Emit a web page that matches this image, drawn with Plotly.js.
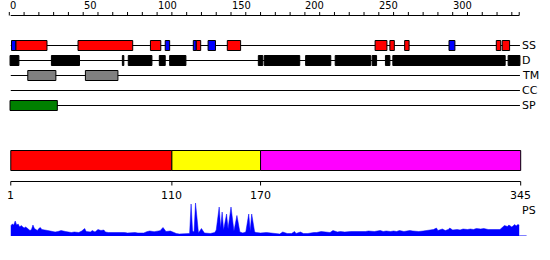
<!DOCTYPE html>
<html><head><meta charset="utf-8">
<script src="https://cdn.plot.ly/plotly-3.0.1.min.js"></script>
<style>html,body{margin:0;padding:0;background:#fff;}#chart{width:550px;height:260px;}</style>
</head><body><div id="chart"></div>
<script>
// ---------------- data ----------------
const seqLength = 345;
const rulerTicks = [0,10,20,30,40,50,60,70,80,90,100,110,120,130,140,150,160,170,180,190,200,210,220,230,240,250,260,270,280,290,300,310,320,330,340,345];
const rulerLabels = [0,50,100,150,200,250,300];
const trackNames = ['SS','D','TM','CC','SP'];

// secondary structure: H = helix, E = strand
const ssStart = [2,5,47,96,106,125,127,135,148,248,258,268,298,330,334];
const ssEnd   = [4,25,83,102,108,126,129,139,156,255,260,270,301,332,338];
const ssType  = ['E','H','H','H','E','E','H','E','H','H','H','H','E','H','H'];

// disorder
const disStart = [1,29,77,81,102,109,169,173,201,221,246,255,260,338];
const disEnd   = [6,47,77,96,105,119,171,196,217,244,248,257,335,345];

// transmembrane
const tmStart = [13,52];
const tmEnd   = [31,73];

// coiled coil (none)
const ccStart = [];
const ccEnd   = [];

// signal peptide
const spStart = [1];
const spEnd   = [32];

// domains
const domainStart = [1,110,170];
const domainEnd   = [110,170,345];

// bottom axis ticks
const domainTicks = [1,110,170,345];
const profileLabel = 'PS';

// PS profile
const psPos = [1,2,3,4,5,6,7,8,10,11,12,13,14,15,16,17,19,20,21,22,23,24,26,29,31,33,35,38,40,42,44,47,49,51,52,55,56,58,60,62,64,65,67,69,72,74,76,78,80,83,85,87,89,91,93,95,98,100,102,104,106,109,111,113,115,118,120,122,123,124,125,126,128,130,132,136,139,140,142,143,144,145,147,148,150,152,154,156,158,160,162,163,164,166,167,170,174,179,183,185,188,191,193,194,197,199,202,206,208,211,215,217,219,222,224,227,231,234,237,241,243,245,247,251,253,255,258,260,262,264,267,269,271,273,275,277,280,284,287,289,290,293,295,297,298,300,303,305,307,310,312,314,316,319,321,324,328,330,332,335,337,338,340,342,343,344,345];
const psVal = [10,12,11,15,11,12,9,10.5,8,9,8,6.5,5.5,6.5,11,7.5,5.5,7.5,8.5,6.5,6.5,6,5.5,4.5,4,4.5,5.5,4.5,4,3.5,4,3.5,5,7.5,4.5,4,5.5,4,6.5,5.5,6,4,3.5,3.5,4,3.5,4,3.5,3,3.5,3.5,3,3,3,4.3,5,4.3,4.7,5.3,8.5,4.5,5,3.5,2.5,2,2,2,2.5,32,5,4,33,3,7.5,3,2.5,3.5,6,29,8,24,6,22,7,29,5,20.5,4,3,4,22,5,22,4,3.5,3,3.5,3,2,4,2.5,2.5,4.5,2.5,4,2.5,2.5,3.5,3.5,4.5,3.5,3.5,5.5,4,4.5,4,4.5,4.5,4,4.5,5,5,4.5,5.5,4.5,5,4.5,5,4.5,5.5,4.5,5,5.5,5,4.5,4.5,5,5.5,6.5,8,5.5,7,5.5,6.5,8,6,6.5,6,7,6.5,7,6.5,7.5,7,7.5,6.5,7,6.5,6.5,10.5,9.5,11,9,11.5,10,11.5,11];

// ---------------- layout helpers ----------------
const W = 550, H = 260;
const X0 = 9.3, K = 1.478;           // pixel = X0 + K * residue
const py = p => 1 - p / H;            // pixel row -> paper fraction
const trackY = [45, 60, 75, 90, 105];
const boxHalf = 5;
const FONT = 'DejaVu Sans, Liberation Sans, sans-serif';
const NARROW = 'Liberation Sans Narrow, DejaVu Sans Condensed, DejaVu Sans, sans-serif';

const colors = {H:'#ff0000', E:'#0000ff', D:'#000000', TM:'#808080', SP:'#008000'};
const domainColors = ['#ff0000','#ffff00','#ff00ff'];

const shapes = [];
const annotations = [];

// top ruler
shapes.push({type:'line', xref:'x', yref:'paper', x0:0.95, x1:seqLength, y0:py(15.5), y1:py(15.5), line:{color:'#000', width:1}});
rulerTicks.forEach(v => shapes.push({type:'line', xref:'x', yref:'paper', x0:v, x1:v, y0:py(12), y1:py(15.5), line:{color:'#000', width:1}}));
rulerLabels.forEach(v => annotations.push({text:String(v), x:v, xref:'x', xanchor:'left', y:py(5.8), yref:'paper', yanchor:'middle', showarrow:false, font:{family:NARROW, size:11, color:'#000'}, borderpad:0, xshift:-0.5}));

// track lines + labels
trackNames.forEach((name, i) => {
  const yc = trackY[i] + 0.5;
  shapes.push({type:'line', xref:'x', yref:'paper', x0:1, x1:seqLength + 0.5, y0:py(yc), y1:py(yc), line:{color:'#000', width:1}});
  annotations.push({text:name, x:520.5 / W, xref:'paper', xanchor:'left', y:py(trackY[i]), yref:'paper', yanchor:'middle', showarrow:false, borderpad:0, font:{family:FONT, size:11, color:'#000'}});
});

function addBoxes(starts, ends, trackIdx, colorFn) {
  const yc = trackY[trackIdx] + 0.5;
  starts.forEach((s, j) => {
    shapes.push({type:'rect', xref:'x', yref:'paper', x0:s - 0.5, x1:ends[j] + 0.5,
      y0:py(yc - boxHalf), y1:py(yc + boxHalf), fillcolor:colorFn(j), line:{color:'#000', width:1}});
  });
}
addBoxes(ssStart, ssEnd, 0, j => colors[ssType[j]]);
addBoxes(disStart, disEnd, 1, () => colors.D);
addBoxes(tmStart, tmEnd, 2, () => colors.TM);
addBoxes(ccStart, ccEnd, 3, () => '#00ffff');
addBoxes(spStart, spEnd, 4, () => colors.SP);

// domain bar
domainStart.forEach((s, j) => {
  shapes.push({type:'rect', xref:'x', yref:'paper', x0:s, x1:domainEnd[j] + (j === domainStart.length - 1 ? 1 : 0),
    y0:py(170.5), y1:py(150.5), fillcolor:domainColors[j], line:{color:'#000', width:1}});
});

// bottom axis
shapes.push({type:'line', xref:'x', yref:'paper', x0:1, x1:seqLength + 1, y0:py(181.5), y1:py(181.5), line:{color:'#000', width:1}});
domainTicks.forEach((v, j) => {
  const xv = (j === domainTicks.length - 1) ? v + 1 : v;
  shapes.push({type:'line', xref:'x', yref:'paper', x0:xv, x1:xv, y0:py(181.5), y1:py(185.5), line:{color:'#000', width:1}});
  annotations.push({text:String(v), x:xv, xref:'x', xanchor:'center', y:py(195.5), yref:'paper', yanchor:'middle', showarrow:false, borderpad:0, font:{family:FONT, size:11, color:'#000'}});
});
annotations.push({text:profileLabel, x:520.5 / W, xref:'paper', xanchor:'left', y:py(210.5), yref:'paper', yanchor:'middle', showarrow:false, borderpad:0, font:{family:FONT, size:11, color:'#000'}});

// profile baseline extension
shapes.push({type:'line', xref:'x', yref:'y2', x0:seqLength, x1:seqLength + 5, y0:0, y1:0, line:{color:'#0000ff', width:1}});

const traces = [{
  type:'scatter', mode:'lines', x:psPos, y:psVal, xaxis:'x', yaxis:'y2',
  fill:'tozeroy', fillcolor:'#0000ff', line:{color:'#0000ff', width:0.5, shape:'linear'},
  hoverinfo:'skip', showlegend:false
}];

const layout = {
  width:W, height:H, margin:{l:0, r:0, t:0, b:0, pad:0},
  paper_bgcolor:'#fff', plot_bgcolor:'rgba(0,0,0,0)', showlegend:false,
  xaxis:{range:[(0 - X0) / K, (W - X0) / K], domain:[0,1], visible:false, anchor:'y2', fixedrange:true},
  yaxis2:{range:[0,40], domain:[py(236), py(196)], visible:false, anchor:'x', fixedrange:true},
  shapes:shapes, annotations:annotations
};

Plotly.newPlot('chart', traces, layout, {staticPlot:true, displayModeBar:false});
</script>
</body></html>
